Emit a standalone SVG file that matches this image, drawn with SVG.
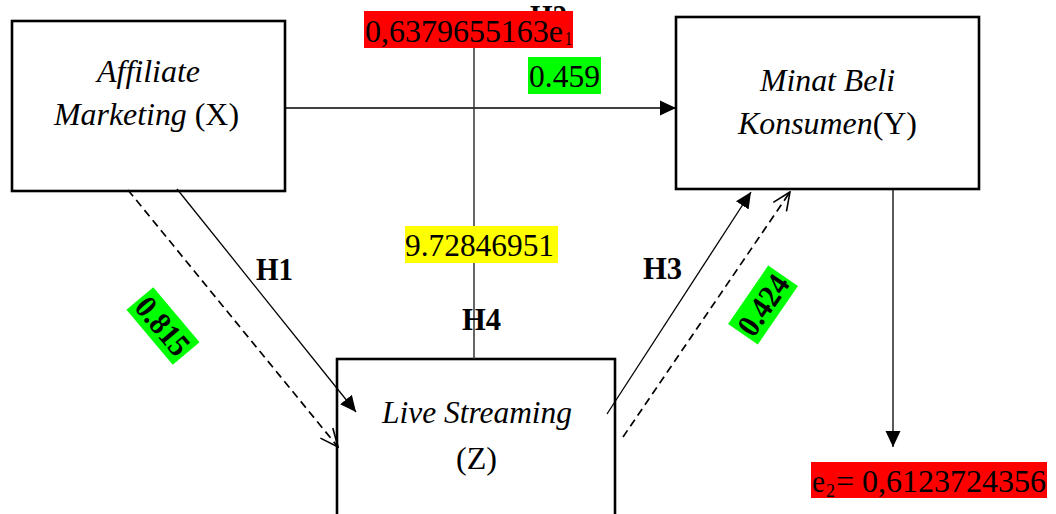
<svg xmlns="http://www.w3.org/2000/svg" width="1056" height="514" viewBox="0 0 1056 514">
<style>
text{font-family:"Liberation Serif","Times New Roman",serif;fill:#000}
.box{fill:#fff;stroke:#000;stroke-width:2.6}
.nt{font-size:32px;font-style:italic}
.nr{font-style:normal}
.lbl{font-size:32px}
.h{font-size:32px;font-weight:bold}
.con{fill:none;stroke:#000;stroke-width:1.3}
.dash{fill:none;stroke:#000;stroke-width:1.7;stroke-dasharray:8,5}
</style>
<defs>
<marker id="arrF" markerUnits="userSpaceOnUse" markerWidth="16" markerHeight="16" refX="16" refY="8" orient="auto">
<path d="M0,0.5 L16,8 L0,15.5 z" fill="#000"/>
</marker>
<marker id="arrO" markerUnits="userSpaceOnUse" markerWidth="20" markerHeight="20" refX="19" refY="10" orient="auto">
<path d="M1,2 L19,10 L1,18" fill="none" stroke="#000" stroke-width="1.6"/>
</marker>
</defs>
<rect width="1056" height="514" fill="#fff"/>

<g id="nodeX">
<rect class="box" x="12" y="21" width="273" height="170"/>
<text class="nt" x="97" y="82" textLength="103" lengthAdjust="spacingAndGlyphs">Affiliate</text>
<text class="nt" x="54" y="125" textLength="185" lengthAdjust="spacingAndGlyphs">Marketing <tspan class="nr">(X)</tspan></text>
</g>

<g id="nodeY">
<rect class="box" x="676" y="17" width="303" height="172"/>
<text class="nt" x="760" y="91" textLength="135" lengthAdjust="spacingAndGlyphs">Minat Beli</text>
<text class="nt" x="738" y="134" textLength="179" lengthAdjust="spacingAndGlyphs">Konsumen<tspan class="nr">(Y)</tspan></text>
</g>

<g id="nodeZ">
<rect class="box" x="337" y="359" width="278" height="170"/>
<text class="nt" x="382" y="423" textLength="190" lengthAdjust="spacingAndGlyphs">Live Streaming</text>
<text class="lbl" x="456" y="469" textLength="41" lengthAdjust="spacingAndGlyphs">(Z)</text>
</g>

<g id="connectors">
<line class="con" x1="285" y1="108" x2="676" y2="108" marker-end="url(#arrF)"/>
<line x1="474" y1="48" x2="474" y2="359" stroke="#333" stroke-width="1.5"/>
<line class="con" x1="177" y1="189" x2="356" y2="412" marker-end="url(#arrF)"/>
<line class="dash" x1="128" y1="190" x2="338" y2="447" marker-end="url(#arrO)"/>
<line class="con" x1="607" y1="414" x2="751" y2="192" marker-end="url(#arrF)"/>
<line class="dash" x1="623" y1="437" x2="790" y2="192" marker-end="url(#arrO)"/>
<line class="con" x1="893" y1="190" x2="893" y2="447" marker-end="url(#arrF)"/>
</g>

<g id="labels">
<text class="h" x="530" y="27" textLength="37" lengthAdjust="spacingAndGlyphs">H2</text>
<g id="e1">
<rect x="364" y="11" width="209" height="37" fill="#ff0000"/>
<text class="lbl" x="365" y="42" textLength="198" lengthAdjust="spacingAndGlyphs">0,6379655163e</text>
<text x="565" y="45" font-size="19" textLength="7" lengthAdjust="spacingAndGlyphs">1</text>
</g>
<rect x="528" y="57" width="73" height="37" fill="#00ff00"/>
<text class="lbl" x="529" y="87" textLength="71" lengthAdjust="spacingAndGlyphs">0.459</text>
<rect x="405" y="226" width="153" height="37" fill="#ffff00"/>
<text class="lbl" x="405" y="256" textLength="149" lengthAdjust="spacingAndGlyphs">9.72846951</text>
<text class="h" x="462" y="330" textLength="39" lengthAdjust="spacingAndGlyphs">H4</text>
<text class="h" x="256" y="280" textLength="37" lengthAdjust="spacingAndGlyphs">H1</text>
<text class="h" x="643" y="279" textLength="39" lengthAdjust="spacingAndGlyphs">H3</text>
<g transform="translate(163,326) rotate(50)">
<rect x="-36" y="-17.5" width="72" height="35" fill="#00ff00"/>
<text class="h" x="0" y="11" text-anchor="middle" textLength="66" lengthAdjust="spacingAndGlyphs">0.815</text>
</g>
<g transform="translate(763,305) rotate(-55.6)">
<rect x="-35.5" y="-18" width="71" height="36" fill="#00ff00"/>
<text class="h" x="0" y="11" text-anchor="middle" textLength="66" lengthAdjust="spacingAndGlyphs">0.424</text>
</g>
<g id="e2">
<rect x="811" y="462" width="236" height="36" fill="#ff0000"/>
<text class="lbl" x="812" y="492" textLength="13" lengthAdjust="spacingAndGlyphs">e</text>
<text x="826" y="497" font-size="19" textLength="9" lengthAdjust="spacingAndGlyphs">2</text>
<text class="lbl" x="836" y="492" textLength="210" lengthAdjust="spacingAndGlyphs">= 0,6123724356</text>
</g>
</g>
</svg>
